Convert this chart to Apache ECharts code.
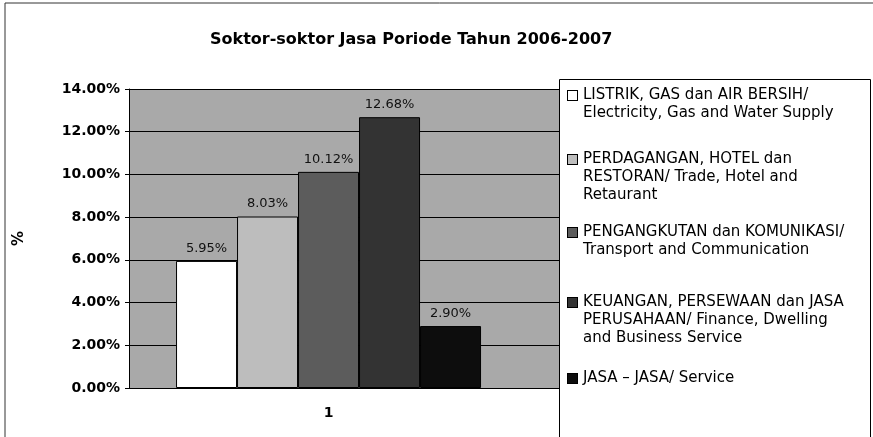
<!DOCTYPE html>
<html>
<head>
<meta charset="utf-8">
<script src="https://cdn.jsdelivr.net/npm/echarts@6/dist/echarts.min.js"></script>
<style>
  html, body { margin: 0; padding: 0; background: #fff; }
  #main { width: 873px; height: 437px; }
</style>
</head>
<body>
<div id="main"></div>
<script>
// data
var category = 1;
var categoryLabel = '1';
var sectorNames = [
    'LISTRIK, GAS dan AIR BERSIH/',
    'PERDAGANGAN, HOTEL dan',
    'PENGANGKUTAN dan KOMUNIKASI/',
    'KEUANGAN, PERSEWAAN dan JASA',
    'JASA \u2013 JASA/ Service'
];
var sectorNameMore = [
    ['Electricity, Gas and Water Supply'],
    ['RESTORAN/ Trade, Hotel and', 'Retaurant'],
    ['Transport and Communication'],
    ['PERUSAHAAN/ Finance, Dwelling', 'and Business Service'],
    []
];
var growth = [5.95, 8.03, 10.12, 12.68, 2.90];
var yTicks = [0, 2, 4, 6, 8, 10, 12, 14];

var barColors = ['#ffffff', '#bdbdbd', '#5c5c5c', '#333333', '#0d0d0d'];
var legendTops = [88, 152, 225, 295, 371];

var chart = echarts.init(document.getElementById('main'), null, { renderer: 'canvas' });

var rich = {
    t: { fontSize: 15, lineHeight: 18, fontFamily: 'DejaVu Sans', color: '#000', padding: [0, 0, 0, 6] },
    c: { fontSize: 15, lineHeight: 18, fontFamily: 'DejaVu Sans', color: '#000', padding: [0, 0, 0, 15] }
};
barColors.forEach(function (c, i) {
    rich['b' + i] = { width: 9, height: 9, backgroundColor: c, borderColor: '#000', borderWidth: 1 };
});

var series = [];
var legends = [];
sectorNames.forEach(function (name, i) {
    series.push({
        name: name,
        type: 'bar',
        barWidth: 61,
        barGap: '0%',
        data: [[category, growth[i]]],
        itemStyle: { color: barColors[i], borderColor: '#000', borderWidth: 1 },
        label: {
            show: true,
            position: 'top',
            distance: 6,
            color: '#111',
            fontSize: 13,
            fontFamily: 'DejaVu Sans',
            formatter: function (p) { return p.value[1].toFixed(2) + '%'; }
        }
    });
    legends.push({
        data: [name],
        orient: 'vertical',
        left: 562,
        top: legendTops[i],
        padding: 0,
        itemWidth: 0,
        itemHeight: 0,
        itemStyle: { opacity: 0 },
        selectedMode: false,
        z: 10,
        textStyle: { rich: rich },
        formatter: function () {
            var s = '{b' + i + '|}{t|' + name + '}';
            sectorNameMore[i].forEach(function (l) { s += '\n{c|' + l + '}'; });
            return s;
        }
    });
});

var option = {
    backgroundColor: '#fff',
    animation: false,
    title: {
        text: 'Soktor-soktor Jasa Poriode Tahun 2006-2007',
        left: 205,
        top: 27,
        textStyle: { fontFamily: 'DejaVu Sans', fontWeight: 'bold', fontSize: 16, color: '#000' }
    },
    legend: legends,
    grid: {
        left: 129, right: 314, top: 89, bottom: 49,
        show: true, backgroundColor: '#a9a9a9', borderWidth: 0
    },
    xAxis: {
        type: 'value',
        min: 0,
        max: 2.155,
        interval: 1,
        axisLine: { show: true, lineStyle: { color: '#000', width: 1 } },
        axisTick: { show: false },
        splitLine: { show: false },
        axisLabel: {
            margin: 18,
            color: '#000',
            fontFamily: 'DejaVu Sans',
            fontWeight: 'bold',
            fontSize: 14,
            formatter: function (v) { return v === category ? categoryLabel : ''; }
        }
    },
    yAxis: {
        type: 'value',
        min: yTicks[0],
        max: yTicks[yTicks.length - 1],
        interval: 2,
        name: '%',
        nameLocation: 'middle',
        nameGap: 102,
        nameRotate: 90,
        nameTextStyle: { fontFamily: 'DejaVu Sans', fontWeight: 'bold', fontSize: 15, color: '#000' },
        axisLine: { show: true, lineStyle: { color: '#000', width: 1 } },
        axisTick: { show: true, length: 4, lineStyle: { color: '#000' } },
        splitLine: { show: true, lineStyle: { color: '#000', width: 1 } },
        axisLabel: {
            margin: 9,
            color: '#000',
            fontFamily: 'DejaVu Sans',
            fontWeight: 'bold',
            fontSize: 14,
            formatter: function (v) { return v.toFixed(2) + '%'; }
        }
    },
    graphic: [
        // chart outline
        { type: 'rect', z: 1, shape: { x: 5, y: 3, width: 900, height: 460 },
          style: { fill: 'none', stroke: '#333', lineWidth: 1 } },
        // legend frame
        { type: 'rect', z: 5, shape: { x: 559.5, y: 79.5, width: 311, height: 400 },
          style: { fill: '#fff', stroke: '#000', lineWidth: 1 } }
    ],
    series: series
};
chart.setOption(option);
</script>
</body>
</html>
